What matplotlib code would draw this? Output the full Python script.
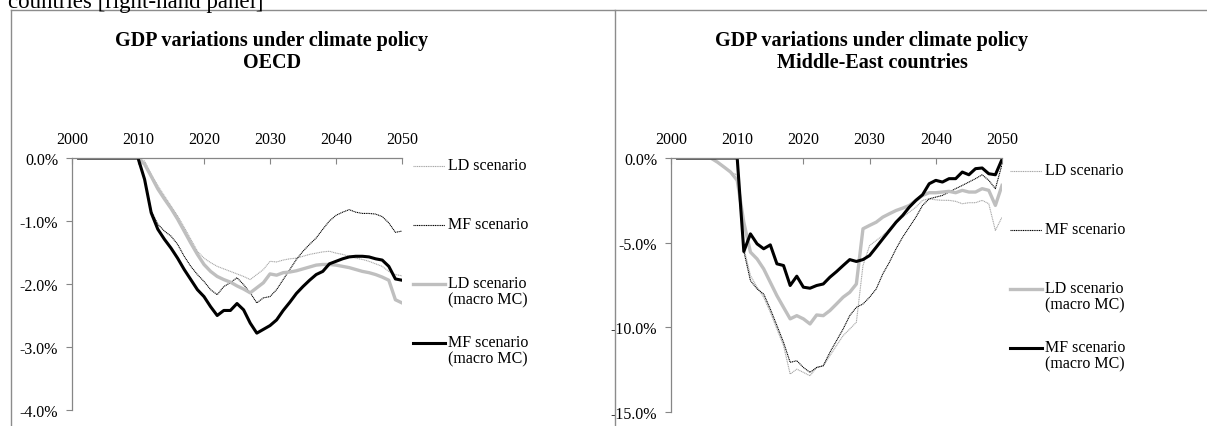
import matplotlib
matplotlib.use('Agg')
import matplotlib.pyplot as plt
from matplotlib.lines import Line2D
from matplotlib.ticker import FuncFormatter

plt.rcParams['font.family'] = ['Liberation Serif', 'DejaVu Serif']
plt.rcParams['axes.unicode_minus'] = False

years = list(range(2001, 2051))
flat = [0.0] * 9  # 2001-2009

# OECD, % GDP variation
oecd_ld = flat + [0.0, -0.05, -0.26, -0.44, -0.60, -0.76, -0.92, -1.10, -1.29, -1.48,
                  -1.59, -1.66, -1.72, -1.76, -1.80, -1.84, -1.88, -1.93, -1.85, -1.77,
                  -1.64, -1.65, -1.62, -1.60, -1.59, -1.56, -1.53, -1.51, -1.49, -1.48,
                  -1.51, -1.53, -1.56, -1.59, -1.61, -1.64, -1.68, -1.72, -1.80, -1.85,
                  -1.87]
oecd_mf = flat + [0.0, -0.34, -0.84, -1.05, -1.16, -1.24, -1.37, -1.56, -1.72, -1.85,
                  -1.96, -2.09, -2.17, -2.04, -1.98, -1.90, -2.01, -2.14, -2.30, -2.22,
                  -2.20, -2.09, -1.93, -1.77, -1.61, -1.48, -1.37, -1.27, -1.13, -1.00,
                  -0.91, -0.86, -0.82, -0.86, -0.88, -0.88, -0.89, -0.93, -1.03, -1.18,
                  -1.16]
oecd_ld_mc = flat + [0.0, -0.10, -0.29, -0.49, -0.65, -0.80, -0.97, -1.16, -1.35, -1.53,
                     -1.69, -1.80, -1.88, -1.93, -1.97, -2.03, -2.08, -2.14, -2.06, -1.98,
                     -1.84, -1.86, -1.82, -1.81, -1.79, -1.76, -1.73, -1.70, -1.69, -1.69,
                     -1.70, -1.72, -1.74, -1.77, -1.80, -1.82, -1.85, -1.89, -1.94, -2.25,
                     -2.30]
oecd_mf_mc = flat + [0.0, -0.34, -0.87, -1.13, -1.29, -1.43, -1.59, -1.77, -1.93, -2.09,
                     -2.20, -2.36, -2.50, -2.42, -2.42, -2.31, -2.41, -2.62, -2.78, -2.72,
                     -2.66, -2.57, -2.42, -2.29, -2.15, -2.04, -1.94, -1.85, -1.80, -1.68,
                     -1.64, -1.60, -1.57, -1.56, -1.56, -1.57, -1.60, -1.62, -1.72, -1.92,
                     -1.94]

# Middle-East countries, % GDP variation
me_ld = [0.0] * 6 + [-0.24, -0.53, -0.83,
         -1.00, -5.30, -6.94, -7.63, -8.22, -9.11, -10.10, -11.08, -12.76, -12.47,
         -12.66, -12.86, -12.37, -12.27, -11.68, -11.08, -10.49, -10.10, -9.70, -6.35,
         -5.17, -4.87, -4.58, -4.18, -3.79, -3.49, -3.20, -2.90, -2.50, -2.41,
         -2.47, -2.50, -2.50, -2.56, -2.70, -2.64, -2.64, -2.50, -2.70, -4.28,
         -3.49]
me_mf = flat + [0.0, -5.50, -7.24, -7.73, -8.03, -8.92, -9.90, -10.89, -12.07, -11.97,
                -12.37, -12.66, -12.37, -12.27, -11.48, -10.79, -10.10, -9.31, -8.82, -8.62,
                -8.22, -7.73, -6.84, -6.15, -5.36, -4.67, -4.08, -3.49, -2.80, -2.41,
                -2.31, -2.21, -2.01, -1.81, -1.62, -1.42, -1.22, -0.99, -1.32, -1.81,
                -0.39]
me_ld_mc = [0.0] * 6 + [-0.24, -0.53, -0.83,
            -1.32, -3.80, -5.56, -5.96, -6.55, -7.34, -8.13, -8.82, -9.50, -9.31,
            -9.50, -9.80, -9.27, -9.31, -9.01, -8.62, -8.22, -7.93, -7.44, -4.18,
            -3.98, -3.79, -3.49, -3.29, -3.10, -2.96, -2.80, -2.50, -2.21, -2.05,
            -2.05, -2.01, -1.97, -2.05, -1.91, -2.01, -2.01, -1.81, -1.91, -2.80,
            -1.62]
me_mf_mc = flat + [0.0, -5.52, -4.48, -5.07, -5.36, -5.13, -6.25, -6.35, -7.53, -6.98,
                   -7.63, -7.69, -7.53, -7.44, -7.04, -6.71, -6.35, -6.00, -6.11, -6.00,
                   -5.76, -5.27, -4.77, -4.28, -3.79, -3.39, -2.90, -2.50, -2.17, -1.52,
                   -1.32, -1.42, -1.22, -1.22, -0.83, -0.99, -0.63, -0.59, -0.93, -0.99,
                   -0.08]

labels = ['LD scenario', 'MF scenario', 'LD scenario\n(macro MC)', 'MF scenario\n(macro MC)']
titles = ['GDP variations under climate policy\nOECD',
          'GDP variations under climate policy\nMiddle-East countries']
x_ticks = [2000, 2010, 2020, 2030, 2040, 2050]

styles = [dict(color='#a6a6a6', lw=0.8, ls=(0, (1, 0.6))),
          dict(color='black', lw=0.8, ls=(0, (1, 0.6))),
          dict(color='#bfbfbf', lw=2.4, ls='-'),
          dict(color='black', lw=2.2, ls='-')]

AXIS_GRAY = '#868686'
W, H = 1207, 427

fig = plt.figure(figsize=(W / 100, H / 100), dpi=100)


def px(x, y):
  return x / W, 1 - y / H


def make_panel(rect, series, title, ylim, yticks, title_x, legend_x, legend_y0):
  ax = fig.add_axes(rect)
  for vals, st in zip(series, styles):
    ax.plot(years, vals, **st, solid_joinstyle='round')
  ax.set_xlim(2000, 2050)
  ax.set_ylim(*ylim)
  ax.set_xticks(x_ticks)
  ax.set_yticks(yticks)
  ax.yaxis.set_major_formatter(FuncFormatter(lambda v, p: f'{v:.1f}%'))
  ax.xaxis.tick_top()
  ax.tick_params(axis='x', direction='in', length=4, width=0.8, color=AXIS_GRAY,
                 pad=8, labelsize=11.5)
  ax.tick_params(axis='y', direction='out', length=4, width=0.8, color=AXIS_GRAY,
                 pad=6, labelsize=11.5)
  for s in ['right', 'bottom']:
    ax.spines[s].set_visible(False)
  for s in ['left', 'top']:
    ax.spines[s].set_color(AXIS_GRAY)
    ax.spines[s].set_linewidth(0.9)
  ax.patch.set_alpha(0)

  tx, ty = px(title_x, 52)
  fig.text(tx, ty, title, ha='center', va='center',
           fontsize=14.5, fontweight='bold', linespacing=1.1)

  # legend, Excel style: handle level with first text line
  for i, (lab, st) in enumerate(zip(labels, styles)):
    yy = legend_y0 + i * 59
    x0, y0 = px(legend_x, yy)
    x1, _ = px(legend_x + 32, yy)
    fig.add_artist(Line2D([x0, x1], [y0, y0], transform=fig.transFigure, **st))
    tx, _ = px(legend_x + 35, yy)
    _, ty = px(0, yy - 9)
    fig.text(tx, ty, lab, ha='left', va='top', fontsize=11.5, linespacing=1.05)
  return ax


oecd_series = [oecd_ld, oecd_mf, oecd_ld_mc, oecd_mf_mc]
me_series = [me_ld, me_mf, me_ld_mc, me_mf_mc]

make_panel([72 / W, 1 - 411 / H, 330 / W, 252 / H], oecd_series, titles[0], (-4, 0),
           [0, -1, -2, -3, -4], 272, 413, 167)
make_panel([671 / W, 1 - 413 / H, 331 / W, 254 / H], me_series, titles[1], (-15, 0),
           [0, -5, -10, -15], 872, 1010, 172)

# panel frames
frame = dict(transform=fig.transFigure, color='#8c8c8c', lw=1.0)
for xa, xb in [(11, 614), (615, 1207)]:
  fig.add_artist(Line2D([px(xa, 0)[0], px(xb, 0)[0]], [px(0, 11)[1]] * 2, **frame))
  fig.add_artist(Line2D([px(xa, 0)[0]] * 2, [px(0, 11)[1], 0], **frame))

# tail of the caption above the figure (cut at the top edge, as in the source)
fig.text(8 / W, 1 - 8 / H, 'countries [right-hand panel]', ha='left', va='baseline',
         fontsize=16.5)

fig.savefig('out.png', dpi=100)
